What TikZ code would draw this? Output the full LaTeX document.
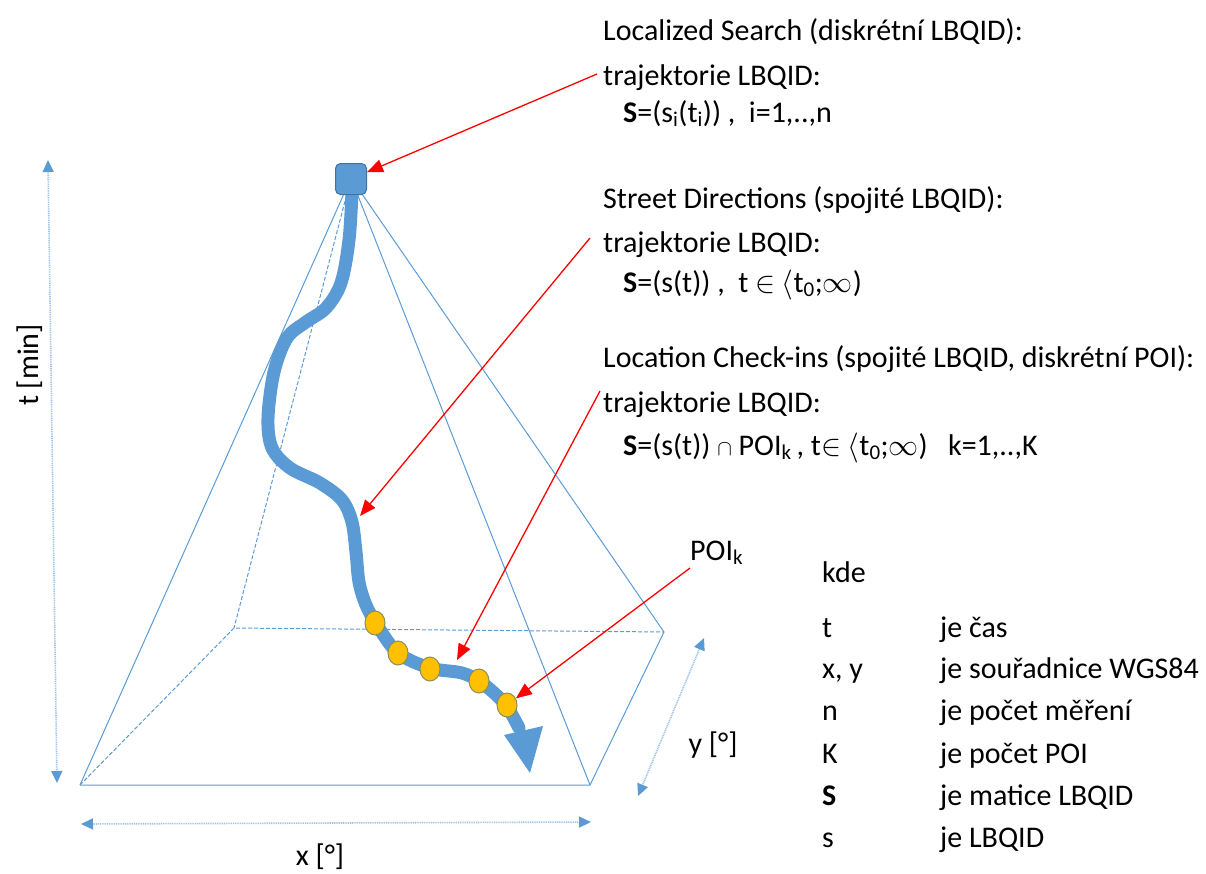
\documentclass[tikz,border=0pt]{standalone}
\usepackage{fix-cm}
\usepackage{fontspec}
\setmainfont{Carlito}
\usetikzlibrary{arrows.meta,shapes.geometric}
\definecolor{axblue}{HTML}{5B9BD5}
\definecolor{axdark}{HTML}{41719C}
\definecolor{poi}{HTML}{FFC000}
\definecolor{poiedge}{HTML}{8C8C5A}
\definecolor{dimblue}{HTML}{9DC3E6}
\begin{document}
\begin{tikzpicture}[x=1pt,y=-1pt,
  txt/.style={anchor=base west, inner sep=0pt, font=\fontsize{30}{36}\selectfont},
  edge/.style={draw=axblue, line width=1pt},
  hidden/.style={edge, dash pattern=on 4pt off 2pt},
  redarrow/.style={draw=red, line width=1.3pt, -{Triangle[length=16pt,width=13pt]}},
  dimarrow/.style={draw=dimblue, line width=1.6pt, dash pattern=on 1pt off 0.8pt,
    {Triangle[length=12pt,width=11pt,color=axblue]}-{Triangle[length=12pt,width=11pt,color=axblue]}},
  poidot/.style={ellipse, draw=poiedge, fill=poi, line width=1pt, minimum width=20pt, minimum height=24pt, inner sep=0pt},
  topbox/.style={rectangle, rounded corners=5pt, draw=axdark, fill=axblue, line width=1pt, minimum size=31pt, inner sep=0pt}]
\useasboundingbox (0,0) rectangle (1206,873);

% pyramid corners
\coordinate (apex) at (351,178);
\coordinate (fl) at (80,785);
\coordinate (fr) at (590,785);
\coordinate (br) at (664,632);
\coordinate (bl) at (234,628);

% hidden edges
\draw[hidden] (fl) -- (bl) -- (br);
\draw[hidden] (apex) -- (bl);
% visible edges
\draw[edge] (fl) -- (fr) -- (br);
\draw[edge] (apex) -- (fl);
\draw[edge] (apex) -- (fr);
\draw[edge] (apex) -- (br);

% dimension arrows
\coordinate (t1) at (48,160);
\coordinate (t2) at (57,783);
\coordinate (x1) at (81,824);
\coordinate (x2) at (591,822);
\coordinate (y1) at (704,638);
\coordinate (y2) at (638,796);
\draw[dimarrow] (t1) -- (t2);
\draw[dimarrow] (x1) -- (x2);
\draw[dimarrow] (y1) -- (y2);
\node[rotate=90, inner sep=0pt, font=\fontsize{30}{36}\selectfont] (tlab) at (30,365) {t [min]};
\node[inner sep=0pt, font=\fontsize{30}{36}\selectfont] (xlab) at (320,857) {x [°]};
\node[inner sep=0pt, font=\fontsize{30}{36}\selectfont] (ylab) at (713,745) {y [°]};

% trajectory
\draw[axblue, line width=13pt, line cap=round] plot[smooth, tension=0.55] coordinates {
  (352,192) (349,240) (341,283) (326,308) (306,322) (287,338) (274,372)
  (268,418) (272,448) (290,468) (320,483) (342,500) (352,522) (356,552)
  (359,582) (366,605) (377,625) (398,653) (430,668) (462,673) (482,683)
  (505,704) (519,728)};
\fill[axblue] (504,735) -- (530,773) -- (543,726) -- cycle;

% query point
\node[topbox] (top) at (351,179) {};

% POI dots
\node[poidot] (p1) at (375,623) {};
\node[poidot] (p2) at (398,653) {};
\node[poidot] (p3) at (430,669) {};
\node[poidot] (p4) at (479,681) {};
\node[poidot] (p5) at (507,705) {};

% labels on the right
\node[txt] (ls1) at (603,40) {Localized Search (diskrétní LBQID):};
\node[txt] (ls2) at (603,85) {trajektorie LBQID:};
\node[txt] (ls3) at (623,122) {\textbf{S}=(s\textsubscript{i}(t\textsubscript{i}))\ ,\ \ i=1,..,n};

\node[txt] (sd1) at (603,208) {Street Directions (spojité LBQID):};
\node[txt] (sd2) at (603,252) {trajektorie LBQID:};
\node[txt] (sd3) at (623,292) {\textbf{S}=(s(t))\ ,\ \ t $\in$ $\langle$t\textsubscript{0};$\infty$)};

\node[txt] (lc1) at (603,367) {Location Check-ins (spojité LBQID, diskrétní POI):};
\node[txt] (lc2) at (603,412) {trajektorie LBQID:};
\node[txt] (lc3) at (623,455) {\textbf{S}=(s(t)) {\fontsize{22}{26}\selectfont$\cap$} POI\textsubscript{k}\,, t$\in$ $\langle$t\textsubscript{0};$\infty$)\ \ \ k=1,..,K};

\node[txt] (poil) at (690,560) {POI\textsubscript{k}};

% legend
\node[txt] (kde) at (822,582) {kde};
\node[txt] (k1) at (822,637) {t};
\node[txt] (v1) at (940,637) {je čas};
\node[txt] (k2) at (822,678) {x, y};
\node[txt] (v2) at (940,678) {je souřadnice WGS84};
\node[txt] (k3) at (822,720) {n};
\node[txt] (v3) at (940,720) {je počet měření};
\node[txt] (k4) at (822,763) {K};
\node[txt] (v4) at (940,763) {je počet POI};
\node[txt] (k5) at (822,805) {\textbf{S}};
\node[txt] (v5) at (940,805) {je matice LBQID};
\node[txt] (k6) at (822,847) {s};
\node[txt] (v6) at (940,847) {je LBQID};

% pointers
\coordinate (r1) at (597,74);
\coordinate (r2) at (590,238);
\coordinate (r2e) at (360,516);
\coordinate (r3) at (600,391);
\coordinate (r3e) at (457,660);
\coordinate (r4) at (690,568);
\draw[redarrow] (r1) -- (top);
\draw[redarrow] (r2) -- (r2e);
\draw[redarrow] (r3) -- (r3e);
\draw[redarrow] (r4) -- (p5);
\end{tikzpicture}
\end{document}
